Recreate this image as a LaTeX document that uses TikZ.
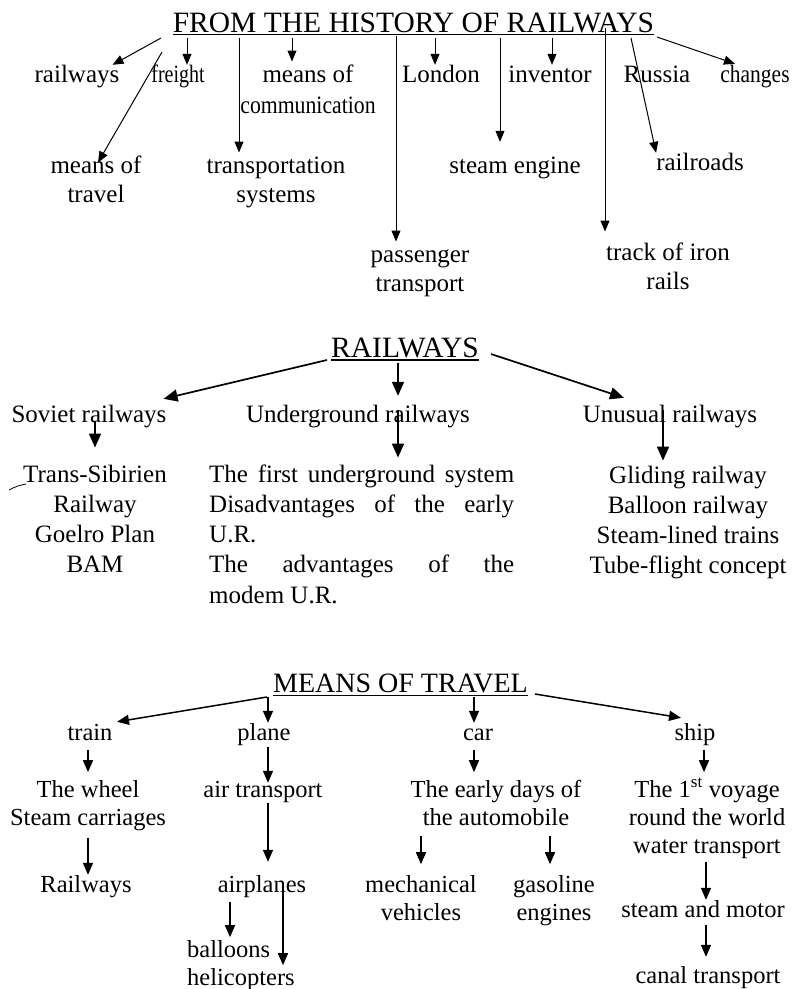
\documentclass[tikz,border=0pt]{standalone}
\usepackage{fontspec}
\setmainfont{Liberation Serif}
\usepackage{graphicx}
\usetikzlibrary{arrows.meta,calc}
\newcommand{\mlc}[1]{\begin{tabular}[t]{@{}c@{}}#1\end{tabular}}
\newcommand{\mll}[1]{\begin{tabular}[t]{@{}l@{}}#1\end{tabular}}
\begin{document}
\begin{tikzpicture}[x=1pt,y=-1pt,
  every node/.style={inner sep=0pt},
  ttl/.style={anchor=base,font=\fontsize{29.5}{33}\selectfont},
  tl/.style={anchor=base,font=\fontsize{25}{29}\selectfont,text height=17pt,text depth=5pt},
  tm/.style={anchor=base,font=\fontsize{25}{29}\selectfont},
  ml/.style={anchor=base,font=\fontsize{25}{30.3}\selectfont,text height=17pt,text depth=5pt},
  mm/.style={anchor=base,font=\fontsize{25}{30.3}\selectfont},
  bl/.style={anchor=base,font=\fontsize{24.5}{28}\selectfont,text height=17pt,text depth=5pt},
  bm/.style={anchor=base,font=\fontsize{24.5}{28}\selectfont},
  uline/.style={line width=1.1pt},
  arT/.style={line width=1pt,-{Triangle[length=11pt,width=9pt]}},
  arM/.style={line width=1.7pt,-{Triangle[length=14pt,width=12pt]}},
  arB/.style={line width=1.5pt,-{Triangle[length=12pt,width=10pt]}},
]
\fill[white] (0,0) rectangle (794,989);
\useasboundingbox (0,0) rectangle (794,989);

% ---------------- top section ----------------
\node[ttl] (t0) at (413.5,32) {FROM THE HISTORY OF RAILWAYS};
\draw[uline] ($(t0.base west)+(0,2.5)$) -- ($(t0.base east)+(0,2.5)$);

\node[tl] (rw) at (77,82) {railways};
\node[tl] (fr) at (178,82) {\scalebox{0.8}[1]{freight}};
\node[tm] (mc) at (308,82) {\mlc{means of\\[2pt]\scalebox{0.87}[1]{communication}}};
\node[tl] (ld) at (441,82) {London};
\node[tl] (iv) at (550,82) {inventor};
\node[tl] (ru) at (657,82) {Russia};
\node[tl] (ch) at (755,82) {\scalebox{0.86}[1]{changes}};
\node[tm] (mt) at (96,173) {\mlc{means of\\travel}};
\node[tm] (ts) at (276,173) {\mlc{transportation\\systems}};
\node[tl] (se) at (515,173) {steam engine};
\node[tl] (rr) at (700,170) {railroads};
\node[tm] (pt) at (420,262) {\mlc{passenger\\transport}};
\node[tm] (tr) at (668,260) {\mlc{track of iron\\rails}};

\coordinate (a1) at (161,38);
\coordinate (a2) at (162,52);
\coordinate (a3) at (187,38);
\coordinate (a4) at (239,38);
\coordinate (a5) at (292,38);
\coordinate (a6) at (396,36);
\coordinate (a7) at (435,38);
\coordinate (a8) at (500,38);
\coordinate (a9) at (552,38);
\coordinate (a10) at (605,28);
\coordinate (a11) at (631,38);
\coordinate (a12) at (657,37);

\draw[arT] (a1) -- ($(rw.north east)+(-7,0)$);
\draw[arT] (a2) -- ($(mt.north)+(2,10)$);
\draw[arT] (a3) -- (a3 |- fr.north);
\draw[arT] (a4) -- (a4 |- ts.north);
\draw[arT] (a5) -- (a5 |- mc.north);
\draw[arT] (a6) -- (a6 |- pt.north);
\draw[arT] (a7) -- (a7 |- ld.north);
\draw[arT] (a8) -- ($(a8 |- se.north)+(0,-14)$);
\draw[arT] (a9) -- (a9 |- iv.north);
\draw[arT] (a10) -- ($(a10 |- tr.north)+(0,-8)$);
\draw[arT] (a11) -- (rr.north west);
\draw[arT] (a12) -- ($(ch.north)+(-20,-1)$);

% ---------------- middle section ----------------
\node[ttl] (r0) at (405,357) {RAILWAYS};
\draw[uline] ($(r0.base west)+(0,3)$) -- ($(r0.base east)+(0,3)$);
\node[ml] (sr) at (89,422) {Soviet railways};
\node[ml] (ur) at (358,422) {Underground railways};
\node[ml] (un) at (670,422) {Unusual railways};
\coordinate (m1) at (327,360);
\coordinate (m2) at (398,363);
\coordinate (m3) at (491,354);
\draw[arM] (m1) -- ($(sr.north east)+(-3,-6)$);
\draw[arM] (m2) -- ($(m2 |- ur.north)+(0,-9)$);
\draw[arM] (m3) -- ($(un.north)+(-46,-7)$);

\node[mm] (sl) at (95,482) {\mlc{Trans-Sibirien\\Railway\\Goelro Plan\\BAM}};
\node[mm,anchor=base west] (ul) at (209,482) {\mll{%
\makebox[305pt][s]{The first underground system}\\
\makebox[305pt][s]{Disadvantages of the early}\\
U.R.\\
\makebox[305pt][s]{The advantages of the}\\
modem U.R.}};
\node[mm] (uu) at (688,483) {\mlc{Gliding railway\\Balloon railway\\Steam-lined trains\\Tube-flight concept}};

\draw[arM] (sr.base -| sl.north) -- ($(sl.north)+(0,-13)$);
\draw[arM] ($(ur.base)+(40,-12)$) -- ($(ul.north west)+(189,-3)$);
\draw[arM] ($(un.base)+(-7,-12)$) -- ($(uu.north)+(-25,-1)$);
\draw[line width=0.8pt] (9,490) .. controls (17,486) .. (26,484);

% ---------------- bottom section ----------------
\node[ttl,font=\fontsize{28}{32}\selectfont] (v0) at (400.5,692) {MEANS OF TRAVEL};
\draw[uline] ($(v0.base west)+(0,3.5)$) -- ($(v0.base east)+(0,3.5)$);
\node[bl] (tn) at (90,740) {train};
\node[bl] (pl) at (264,740) {plane};
\node[bl] (cr) at (478,740) {car};
\node[bl] (sh) at (695,740) {ship};
\coordinate (v1) at (267,697);
\coordinate (v2) at (268,697);
\coordinate (v3) at (474,697);
\coordinate (v4) at (535,694);
\draw[arB] (v1) -- ($(tn.north)+(27,-1)$);
\draw[arB] (v2) -- (v2 |- pl.north);
\draw[arB] (v3) -- (v3 |- cr.north);
\draw[arB] (v4) -- ($(sh.north)+(-14,-5)$);

\node[bm] (tw) at (88,797) {\mlc{The wheel\\Steam carriages}};
\node[bl] (at) at (263,797) {air transport};
\node[bm] (ce) at (496,797) {\mlc{The early days of\\the automobile}};
\node[bm] (sv) at (707,797) {\mlc{The 1\textsuperscript{st} voyage\\round the world\\water transport}};
\draw[arB] ($(tn.base -| tw.north)+(0,10)$) -- ($(tw.north)+(0,-5)$);
\draw[arB] ($(pl.base)+(4,7)$) -- ($(at.north)+(5,3)$);
\draw[arB] ($(cr.base)+(-4,10)$) -- ($(ce.north)+(-22,-5)$);
\draw[arB] ($(sh.base)+(9,10)$) -- ($(sv.north)+(-3,-5)$);

\node[bl] (ry) at (86,892) {Railways};
\node[bl] (ap) at (262,892) {airplanes};
\node[bm] (mv) at (421,892) {\mlc{mechanical\\vehicles}};
\node[bm] (ge) at (554,892) {\mlc{gasoline\\engines}};
\node[bl] (sm) at (703,917) {steam and motor};
\node[bm,anchor=base west] (bh) at (187,957) {\mll{balloons\\helicopters}};
\node[bl] (ct) at (708,983) {canal transport};

\draw[arB] ($(tw.south)+(0,4)$) -- (tw.south |- ry.north);
\draw[arB] ($(at.base)+(5,6)$) -- ($(ap.north)+(6,-13)$);
\draw[arB] ($(ap.base)+(-32,10)$) -- ($(bh.north west)+(43,0)$);
\draw[arB] ($(ap.base)+(21,-2)$) -- ($(bh.north west)+(96,28)$);
\draw[arB] ($(ce.south -| mv.north)+(0,2)$) -- ($(mv.north)+(0,-8)$);
\draw[arB] ($(ce.south)+(54,2)$) -- ($(ge.north)+(-4,-8)$);
\draw[arB] ($(sv.south)+(-1,0)$) -- ($(sm.north)+(3,0)$);
\draw[arB] ($(sm.base)+(3,8)$) -- ($(ct.north)+(-2,-9)$);
\end{tikzpicture}
\end{document}
